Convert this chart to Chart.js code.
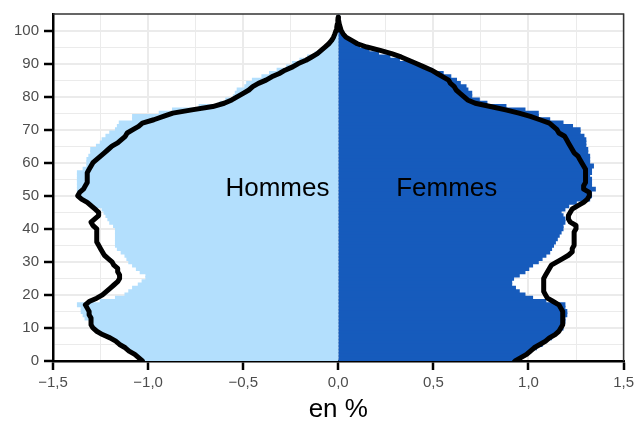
<!DOCTYPE html>
<html>
<head>
<meta charset="utf-8">
<script src="https://cdn.jsdelivr.net/npm/chart.js@4/dist/chart.umd.min.js"></script>
<style>
  html, body { margin: 0 ; padding: 0 ; background: #FFFFFF ; }
  #box { width: 638px ; height: 425px ; }
</style>
</head>
<body>
<div id="box"><canvas id="pyramidCanvas"></canvas></div>
<script>

// ---------------- Data -------------------------------------------------------
const AGES = [] ;
for( var a = 0; a <= 104; a++ ) { AGES.push( a ) ; }

// share of population (in %) by single year of age, men shown negative
const HOMMES_BARS = [
  -1.02, -1.04, -1.06, -1.09, -1.11, -1.14, -1.16, -1.19, -1.22, -1.25,   //  0- 9
  -1.28, -1.29, -1.30, -1.33, -1.34, -1.35, -1.35, -1.37, -1.25, -1.17,   // 10-19
  -1.12, -1.10, -1.08, -1.05, -1.03, -1.01, -1.01, -1.04, -1.06, -1.08,   // 20-29
  -1.10, -1.11, -1.12, -1.14, -1.16, -1.17, -1.17, -1.17, -1.17, -1.17,   // 30-39
  -1.17, -1.18, -1.20, -1.21, -1.22, -1.23, -1.24, -1.28, -1.31, -1.35,   // 40-49
  -1.37, -1.37, -1.37, -1.37, -1.37, -1.37, -1.37, -1.37, -1.34, -1.32,   // 50-59
  -1.32, -1.32, -1.31, -1.30, -1.30, -1.27, -1.25, -1.24, -1.22, -1.20,   // 60-69
  -1.17, -1.16, -1.15, -1.08, -1.08, -0.94, -0.87, -0.73, -0.62, -0.59,   // 70-79
  -0.55, -0.54, -0.53, -0.49, -0.48, -0.45, -0.40, -0.36, -0.32, -0.27,   // 80-89
  -0.24, -0.20, -0.16, -0.12, -0.09, -0.065, -0.045, -0.03, -0.02, -0.012, // 90-99
  -0.008, -0.005, -0.003, -0.002, -0.001                                  // 100-104
] ;

const FEMMES_BARS = [
  0.91, 0.95, 0.98, 1.01, 1.04, 1.07, 1.09, 1.12, 1.14, 1.16,   //  0- 9
  1.18, 1.18, 1.19, 1.19, 1.20, 1.20, 1.19, 1.19, 1.09, 1.02,   // 10-19
  0.98, 0.95, 0.93, 0.91, 0.91, 0.92, 0.95, 0.98, 1.00, 1.02,   // 20-29
  1.05, 1.07, 1.09, 1.11, 1.12, 1.13, 1.14, 1.15, 1.16, 1.17,   // 30-39
  1.18, 1.18, 1.19, 1.19, 1.18, 1.17, 1.19, 1.21, 1.25, 1.32,   // 40-49
  1.33, 1.33, 1.35, 1.33, 1.33, 1.33, 1.32, 1.33, 1.33, 1.34,   // 50-59
  1.32, 1.32, 1.32, 1.31, 1.31, 1.30, 1.30, 1.30, 1.29, 1.27,   // 60-69
  1.27, 1.23, 1.18, 1.11, 1.05, 1.05, 0.98, 0.88, 0.78, 0.74,   // 70-79
  0.70, 0.70, 0.68, 0.67, 0.64, 0.62, 0.59, 0.55, 0.49, 0.44,   // 80-89
  0.39, 0.32, 0.27, 0.21, 0.16, 0.11, 0.08, 0.06, 0.04, 0.025,  // 90-99
  0.015, 0.008, 0.004, 0.002, 0.001                             // 100-104
] ;

// comparison profile drawn as the black outline
const HOMMES_LINE = [
  -1.03, -1.05, -1.07, -1.10, -1.12, -1.15, -1.17, -1.20, -1.24, -1.27,   //  0- 9
  -1.29, -1.30, -1.30, -1.30, -1.31, -1.31, -1.32, -1.33, -1.31, -1.27,   // 10-19
  -1.24, -1.22, -1.20, -1.18, -1.16, -1.15, -1.15, -1.16, -1.16, -1.18,   // 20-29
  -1.19, -1.21, -1.23, -1.24, -1.25, -1.26, -1.27, -1.27, -1.27, -1.27,   // 30-39
  -1.27, -1.29, -1.30, -1.28, -1.26, -1.26, -1.28, -1.30, -1.32, -1.35,   // 40-49
  -1.37, -1.36, -1.34, -1.33, -1.32, -1.32, -1.32, -1.32, -1.31, -1.30,   // 50-59
  -1.29, -1.27, -1.25, -1.23, -1.21, -1.19, -1.16, -1.14, -1.12, -1.11,   // 60-69
  -1.08, -1.05, -1.03, -0.97, -0.92, -0.87, -0.77, -0.66, -0.60, -0.56,   // 70-79
  -0.53, -0.50, -0.47, -0.45, -0.42, -0.38, -0.35, -0.31, -0.28, -0.24,   // 80-89
  -0.21, -0.17, -0.14, -0.11, -0.09, -0.07, -0.05, -0.035, -0.025, -0.018, // 90-99
  -0.012, -0.008, -0.005, -0.002, 0.0                                     // 100-104
] ;

const FEMMES_LINE = [
  0.93, 0.96, 0.99, 1.01, 1.03, 1.06, 1.09, 1.11, 1.14, 1.16,   //  0- 9
  1.17, 1.18, 1.18, 1.18, 1.18, 1.18, 1.17, 1.16, 1.13, 1.10,   // 10-19
  1.09, 1.08, 1.08, 1.08, 1.08, 1.08, 1.09, 1.10, 1.11, 1.12,   // 20-29
  1.15, 1.18, 1.21, 1.23, 1.23, 1.24, 1.24, 1.24, 1.24, 1.24,   // 30-39
  1.25, 1.25, 1.22, 1.21, 1.21, 1.22, 1.23, 1.26, 1.29, 1.31,   // 40-49
  1.32, 1.32, 1.29, 1.29, 1.30, 1.30, 1.30, 1.30, 1.30, 1.29,   // 50-59
  1.28, 1.27, 1.26, 1.24, 1.23, 1.22, 1.21, 1.20, 1.19, 1.16,   // 60-69
  1.15, 1.13, 1.11, 1.06, 1.01, 0.95, 0.88, 0.80, 0.72, 0.68,   // 70-79
  0.66, 0.64, 0.62, 0.61, 0.59, 0.58, 0.55, 0.52, 0.49, 0.45,   // 80-89
  0.41, 0.37, 0.33, 0.28, 0.22, 0.15, 0.10, 0.07, 0.04, 0.025,  // 90-99
  0.015, 0.01, 0.005, 0.002, 0.0                                // 100-104
] ;

const SEX_LABELS = [ "Hommes", "Femmes" ] ;
const X_TITLE = "en %" ;

// ---------------- Constants --------------------------------------------------
const FONT = "'Liberation Sans', Arial, Helvetica, sans-serif" ;
const HOMMES_COLOR = '#B3DFFD' ;
const FEMMES_COLOR = '#165BBC' ;
const GRID_COLOR = '#EBEBEB' ;
const TICK_TEXT = '#4D4D4D' ;

// ---------------- Helpers ----------------------------------------------------
function toPoints( values ) {
    var pts = [] ;
    for( var i = 0; i < AGES.length; i++ ) {
        pts.push( { x: values[i], y: AGES[i] } ) ;
    }
    return pts ;
}

function formatPct( v ) {
    var txt = Math.abs( v ).toFixed( 1 ).replace( '.', ',' ) ;
    return ( v < -1e-9 ? '\u2212' : '' ) + txt ;
}

function isMajorX( v ) { return Math.abs( Math.round( v * 4 ) ) % 2 === 0 ; }
function isMajorY( v ) { return Math.round( v ) % 10 === 0 ; }

// ---------------- Plugins ----------------------------------------------------
// top and right panel border
const panelBorder = {
    id: 'panelBorder',
    afterDatasetsDraw( chart ) {
        const a = chart.chartArea ;
        const ctx = chart.ctx ;
        ctx.save() ;
        ctx.strokeStyle = '#333333' ;
        ctx.lineWidth = 1.5 ;
        ctx.beginPath() ;
        ctx.moveTo( a.left, a.top ) ;
        ctx.lineTo( a.right, a.top ) ;
        ctx.lineTo( a.right, a.bottom ) ;
        ctx.stroke() ;
        ctx.restore() ;
    }
} ;

// "Hommes" / "Femmes" labels inside the pyramid
const sexLabels = {
    id: 'sexLabels',
    afterDatasetsDraw( chart ) {
        const ctx = chart.ctx ;
        const xs = chart.scales.x ;
        const ys = chart.scales.y ;
        ctx.save() ;
        ctx.font = "26px " + FONT ;
        ctx.fillStyle = '#000000' ;
        ctx.textAlign = 'center' ;
        ctx.textBaseline = 'middle' ;
        ctx.fillText( SEX_LABELS[0], xs.getPixelForValue( -0.32 ), ys.getPixelForValue( 52 ) ) ;
        ctx.fillText( SEX_LABELS[1], xs.getPixelForValue( 0.57 ), ys.getPixelForValue( 52 ) ) ;
        ctx.restore() ;
    }
} ;

// ---------------- Datasets ---------------------------------------------------
function barDataset( name, values, color ) {
    return {
        label: name,
        type: 'bar',
        data: toPoints( values ),
        backgroundColor: color,
        borderWidth: 0,
        inflateAmount: 0.8,
        barPercentage: 1.0,
        categoryPercentage: 1.0,
        grouped: false,
        order: 2
    } ;
}

function lineDataset( name, values ) {
    return {
        label: name,
        type: 'line',
        data: toPoints( values ),
        borderColor: '#000000',
        borderWidth: 5,
        borderJoinStyle: 'round',
        borderCapStyle: 'round',
        pointRadius: 0,
        tension: 0,
        fill: false,
        indexAxis: 'y',
        order: 0
    } ;
}

// ---------------- Chart ------------------------------------------------------
Chart.defaults.font.family = FONT ;
Chart.defaults.animation = false ;

new Chart( document.getElementById( 'pyramidCanvas' ), {
    data: {
        datasets: [
            barDataset( 'Hommes', HOMMES_BARS, HOMMES_COLOR ),
            barDataset( 'Femmes', FEMMES_BARS, FEMMES_COLOR ),
            lineDataset( 'Hommes ref', HOMMES_LINE ),
            lineDataset( 'Femmes ref', FEMMES_LINE )
        ]
    },
    options: {
        indexAxis: 'y',
        responsive: true,
        maintainAspectRatio: false,
        layout: { padding: { top: 12, right: 13, left: 0, bottom: 0 } },
        plugins: {
            legend: { display: false },
            tooltip: { enabled: false }
        },
        scales: {
            x: {
                type: 'linear',
                min: -1.5,
                max: 1.5,
                offset: false,
                afterFit: function( s ) { s.height = 64 ; },
                afterBuildTicks: function( s ) {
                    s.ticks = [] ;
                    for( var i = -6; i <= 6; i++ ) { s.ticks.push( { value: i * 0.25 } ) ; }
                },
                ticks: {
                    autoSkip: false,
                    maxRotation: 0,
                    padding: 4,
                    color: TICK_TEXT,
                    font: { size: 15 },
                    callback: function( v ) { return isMajorX( v ) ? formatPct( v ) : '' ; }
                },
                grid: {
                    offset: false,
                    color: GRID_COLOR,
                    lineWidth: function( c ) { return c.tick && isMajorX( c.tick.value ) ? 2 : 1 ; },
                    tickColor: function( c ) { return c.tick && isMajorX( c.tick.value ) ? '#000000' : 'rgba(0,0,0,0)' ; },
                    tickWidth: 2.5,
                    tickLength: 9
                },
                border: { display: true, color: '#000000', width: 2.5 },
                title: {
                    display: true,
                    text: X_TITLE,
                    color: '#000000',
                    font: { size: 26 },
                    padding: { top: 2, bottom: 0 }
                }
            },
            y: {
                type: 'linear',
                min: 0,
                max: 105,
                offset: false,
                afterFit: function( s ) { s.width = 53 ; },
                afterBuildTicks: function( s ) {
                    s.ticks = [] ;
                    for( var i = 0; i <= 100; i += 5 ) { s.ticks.push( { value: i } ) ; }
                },
                ticks: {
                    autoSkip: false,
                    padding: 5,
                    color: TICK_TEXT,
                    font: { size: 15 },
                    callback: function( v ) { return isMajorY( v ) ? String( v ) : '' ; }
                },
                grid: {
                    offset: false,
                    color: GRID_COLOR,
                    lineWidth: function( c ) { return c.tick && isMajorY( c.tick.value ) ? 2 : 1 ; },
                    tickColor: function( c ) { return c.tick && isMajorY( c.tick.value ) ? '#000000' : 'rgba(0,0,0,0)' ; },
                    tickWidth: 2.5,
                    tickLength: 9
                },
                border: { display: true, color: '#000000', width: 2.5 }
            }
        }
    },
    plugins: [ panelBorder, sexLabels ]
} ) ;
</script>
</body>
</html>
